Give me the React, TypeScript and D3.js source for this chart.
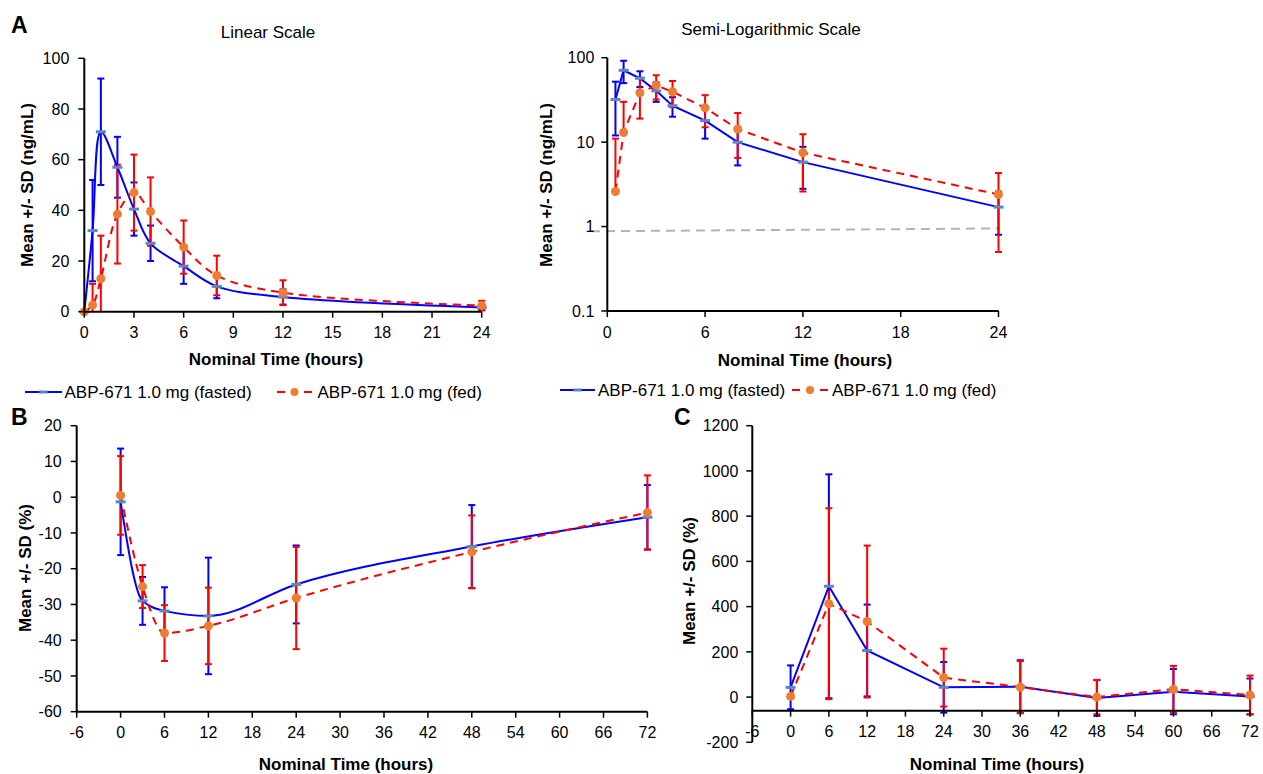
import React from 'react';
import * as d3 from 'd3';

const FONT = '"Liberation Sans", Arial, Helvetica, sans-serif';
const BLUE = '#0000FF';
const RED = '#FF0000';
const BLUE_MARK = '#5B87C7';
const ORANGE = '#ED7D31';
const GRAY = '#B4B4B4';

// ---------- Panel A (PK concentration, ng/mL) ----------
const timeA = [0, 0.5, 1, 2, 3, 4, 6, 8, 12, 24];
const fastedMeanA = [0, 32, 71, 57, 40.5, 27, 18, 10, 5.8, 1.7];
const fastedSdA = [0, 20, 21, 12, 10.5, 7, 7, 4.7, 3, 0.9];
const fedMeanA = [0, 2.6, 13, 38.5, 47, 39.5, 25.5, 14.3, 7.5, 2.4];
const fedSdA = [0, 8.4, 17, 19.5, 15, 13.5, 10.5, 7.8, 4.9, 1.9];
const linearYTicks = [0, 20, 40, 60, 80, 100];
const linearXTicks = [0, 3, 6, 9, 12, 15, 18, 21, 24];
const logYTicks = [0.1, 1, 10, 100];
const logYLabels = ['0.1', '1', '10', '100'];
const logXTicks = [0, 6, 12, 18, 24];
const lloqTime = [-1, 24];
const lloqValue = [0.88, 0.95];

// ---------- Panel B (% change) ----------
const timeB = [0, 3, 6, 12, 24, 48, 72];
const fastedMeanB = [-1.3, -29, -31.8, -33.2, -24.4, -13.8, -5.6];
const fastedSdB = [14.9, 6.7, 6.6, 16.3, 10.9, 11.6, 9];
const fedMeanB = [0.5, -25, -38, -36, -28.2, -15.3, -4.3];
const fedSdB = [11, 6, 7.8, 10.7, 14.3, 10.2, 10.4];
const bYTicks = [-60, -50, -40, -30, -20, -10, 0, 10, 20];
const bcXTicks = [-6, 0, 6, 12, 18, 24, 30, 36, 42, 48, 54, 60, 66, 72];

// ---------- Panel C (% change) ----------
const timeC = [0, 6, 12, 24, 36, 48, 60, 72];
const fastedMeanC = [43, 490, 206, 43, 46, -4, 24, 3];
const fastedSdC = [97, 495, 203, 112, 117, 79, 100, 79];
const fedMeanC = [3, 413, 334, 86, 44, 0, 35, 9];
const fedSdC = [0, 422, 336, 128, 115, 76, 103, 86];
const cYTicks = [-200, 0, 200, 400, 600, 800, 1000, 1200];
const cXAxisAt = -60;

const legendFasted = 'ABP-671 1.0 mg (fasted)';
const legendFed = 'ABP-671 1.0 mg (fed)';

type Series = { t: number[]; mean: number[]; sd: number[]; kind: 'fasted' | 'fed' };

function SeriesLayer({ series, x, y, curve, log, floor }: any) {
  const bars: any[] = [];
  const lines: any[] = [];
  const markers: any[] = [];
  series.forEach((s: Series, si: number) => {
    const color = s.kind === 'fasted' ? BLUE : RED;
    s.t.forEach((t, i) => {
      const m = s.mean[i];
      const d = s.sd[i];
      if (!d) return;
      const hi = m + d;
      let lo = m - d;
      let loCap = true;
      if (log && lo <= 0) { lo = m; loCap = false; }
      if (floor !== undefined && lo < floor) { lo = floor; loCap = false; }
      const cx = x(t);
      bars.push(
        <g key={`b${si}-${i}`} stroke={color} strokeWidth={2}>
          <line x1={cx} x2={cx} y1={y(hi)} y2={y(lo)} />
          <line x1={cx - 3.5} x2={cx + 3.5} y1={y(hi)} y2={y(hi)} />
          {loCap && <line x1={cx - 3.5} x2={cx + 3.5} y1={y(lo)} y2={y(lo)} />}
        </g>
      );
    });
    const pts = s.t.map((t, i) => [t, s.mean[i]]).filter((p) => !log || p[1] > 0);
    const gen = d3.line<number[]>().x((p) => x(p[0])).y((p) => y(p[1])).curve(curve);
    lines.push(
      <path key={`l${si}`} d={gen(pts) || ''} fill="none" stroke={color} strokeWidth={2}
        strokeDasharray={s.kind === 'fed' ? '8,6' : undefined} />
    );
    pts.forEach((p, i) => {
      const cx = x(p[0]);
      const cy = y(p[1]);
      markers.push(
        s.kind === 'fasted'
          ? <rect key={`m${si}-${i}`} x={cx - 5} y={cy - 1.5} width={10} height={3} fill={BLUE_MARK} />
          : <circle key={`m${si}-${i}`} cx={cx} cy={cy} r={4.5} fill={ORANGE} />
      );
    });
  });
  return <g>{bars}{lines}{markers}</g>;
}

function YAxis({ x0, scale, ticks, labels, yTop, yBot, gap }: any) {
  return (
    <g>
      <line x1={x0} x2={x0} y1={yTop} y2={yBot} stroke="#000" strokeWidth={2} />
      {ticks.map((v: number, i: number) => (
        <g key={i}>
          <line x1={x0 - 6} x2={x0} y1={scale(v)} y2={scale(v)} stroke="#000" strokeWidth={1.5} />
          <text x={x0 - gap} y={scale(v) + 5.7} textAnchor="end" fontSize={16} fontFamily={FONT} fill="#000">
            {labels ? labels[i] : String(v)}
          </text>
        </g>
      ))}
    </g>
  );
}

function XAxis({ y0, scale, ticks, x0, x1 }: any) {
  return (
    <g>
      <line x1={x0} x2={x1} y1={y0} y2={y0} stroke="#000" strokeWidth={2} />
      {ticks.map((v: number, i: number) => (
        <g key={i}>
          <line x1={scale(v)} x2={scale(v)} y1={y0} y2={y0 + 6} stroke="#000" strokeWidth={1.5} />
          <text x={scale(v)} y={y0 + 26.5} textAnchor="middle" fontSize={16} fontFamily={FONT} fill="#000">
            {String(v)}
          </text>
        </g>
      ))}
    </g>
  );
}

function YTitle({ x, y, text }: any) {
  return (
    <text transform={`translate(${x},${y}) rotate(-90)`} textAnchor="middle" fontSize={17}
      fontWeight="bold" fontFamily={FONT} fill="#000">{text}</text>
  );
}

function XTitle({ x, y, text }: any) {
  return (
    <text x={x} y={y} textAnchor="middle" fontSize={17} fontWeight="bold" fontFamily={FONT} fill="#000">{text}</text>
  );
}

function Legend({ x0, y0, x1, fedX0, fedX1, fedTextX, textX }: any) {
  const mid = (fedX0 + fedX1) / 2;
  return (
    <g fontFamily={FONT} fontSize={17} fill="#000">
      <line x1={x0} x2={x1} y1={y0} y2={y0} stroke={BLUE} strokeWidth={2} />
      <rect x={(x0 + x1) / 2 - 4} y={y0 - 1.5} width={8} height={3} fill={BLUE_MARK} />
      <text x={textX} y={y0 + 6}>{legendFasted}</text>
      <line x1={fedX0} x2={fedX0 + 8} y1={y0} y2={y0} stroke={RED} strokeWidth={2} />
      <line x1={fedX1 - 8} x2={fedX1} y1={y0} y2={y0} stroke={RED} strokeWidth={2} />
      <circle cx={mid} cy={y0} r={4} fill={ORANGE} />
      <text x={fedTextX} y={y0 + 6}>{legendFed}</text>
    </g>
  );
}

export default function App() {
  const seriesA: Series[] = [
    { t: timeA, mean: fastedMeanA, sd: fastedSdA, kind: 'fasted' },
    { t: timeA, mean: fedMeanA, sd: fedSdA, kind: 'fed' },
  ];
  const seriesB: Series[] = [
    { t: timeB, mean: fastedMeanB, sd: fastedSdB, kind: 'fasted' },
    { t: timeB, mean: fedMeanB, sd: fedSdB, kind: 'fed' },
  ];
  const seriesC: Series[] = [
    { t: timeC, mean: fastedMeanC, sd: fastedSdC, kind: 'fasted' },
    { t: timeC, mean: fedMeanC, sd: fedSdC, kind: 'fed' },
  ];

  // Panel A linear
  const axL = d3.scaleLinear().domain([0, 24]).range([84.3, 481.7]);
  const ayL = d3.scaleLinear().domain([0, 100]).range([311.7, 58.3]);
  // Panel A semi-log
  const axS = d3.scaleLinear().domain([0, 24]).range([607.3, 998.5]);
  const ayS = d3.scaleLog().domain([0.1, 100]).range([311, 57.7]);
  // Panel B
  const bx = d3.scaleLinear().domain([-6, 72]).range([76.7, 647.4]);
  const by = d3.scaleLinear().domain([-60, 20]).range([711.7, 425.7]);
  // Panel C
  const cx = d3.scaleLinear().domain([-6, 72]).range([752.3, 1250]);
  const cy = d3.scaleLinear().domain([-200, 1200]).range([742.3, 425.7]);

  const lloqPath = d3.line<number>().x((_, i) => axS(lloqTime[i])).y((v) => ayS(v))(lloqValue) || '';

  return (
    <svg width={1263} height={774} style={{ position: 'absolute', left: 0, top: 0, background: '#fff' }}>
      <rect x={0} y={0} width={1263} height={774} fill="#fff" />

      {/* Panel letters */}
      <text x={11} y={33} fontSize={23} fontWeight="bold" fontFamily={FONT}>A</text>
      <text x={11} y={425} fontSize={23} fontWeight="bold" fontFamily={FONT}>B</text>
      <text x={674} y={425} fontSize={23} fontWeight="bold" fontFamily={FONT}>C</text>

      {/* ---- Panel A linear ---- */}
      <text x={268} y={38} textAnchor="middle" fontSize={17} fontFamily={FONT}>Linear Scale</text>
      <SeriesLayer series={seriesA} x={axL} y={ayL} curve={d3.curveCatmullRom} floor={0} />
      <YAxis x0={84.3} scale={ayL} ticks={linearYTicks} yTop={58.3} yBot={311.7} gap={15} />
      <XAxis y0={311.7} scale={axL} ticks={linearXTicks} x0={84.3} x1={481.7} />
      <YTitle x={33} y={185} text="Mean +/- SD (ng/mL)" />
      <XTitle x={276} y={365} text="Nominal Time (hours)" />

      {/* ---- Panel A semi-log ---- */}
      <text x={771} y={35} textAnchor="middle" fontSize={17} fontFamily={FONT}>Semi-Logarithmic Scale</text>
      <path d={lloqPath} fill="none" stroke={GRAY} strokeWidth={2} strokeDasharray="9,6" />
      <SeriesLayer series={seriesA} x={axS} y={ayS} curve={d3.curveLinear} log />
      <YAxis x0={607.3} scale={ayS} ticks={logYTicks} labels={logYLabels} yTop={57.7} yBot={311} gap={13} />
      <XAxis y0={311} scale={axS} ticks={logXTicks} x0={607.3} x1={998.5} />
      <YTitle x={552} y={185} text="Mean +/- SD (ng/mL)" />
      <XTitle x={805} y={366} text="Nominal Time (hours)" />

      {/* Legends */}
      <Legend x0={25} x1={62} y0={392} textX={64.5} fedX0={277} fedX1={312} fedTextX={317.5} />
      <Legend x0={560} x1={595} y0={390} textX={598} fedX0={792} fedX1={828} fedTextX={832} />

      {/* ---- Panel B ---- */}
      <SeriesLayer series={seriesB} x={bx} y={by} curve={d3.curveMonotoneX} />
      <YAxis x0={76.7} scale={by} ticks={bYTicks} yTop={425.7} yBot={711.7} gap={15} />
      <XAxis y0={711.7} scale={bx} ticks={bcXTicks} x0={76.7} x1={647.4} />
      <YTitle x={31} y={568} text="Mean +/- SD (%)" />
      <XTitle x={346} y={770} text="Nominal Time (hours)" />

      {/* ---- Panel C ---- */}
      <SeriesLayer series={seriesC} x={cx} y={cy} curve={d3.curveLinear} />
      <YAxis x0={752.3} scale={cy} ticks={cYTicks} yTop={425.7} yBot={742.3} gap={14} />
      <XAxis y0={cy(cXAxisAt)} scale={cx} ticks={bcXTicks} x0={752.3} x1={1250} />
      <YTitle x={695} y={581} text="Mean +/- SD (%)" />
      <XTitle x={997} y={770} text="Nominal Time (hours)" />
    </svg>
  );
}
